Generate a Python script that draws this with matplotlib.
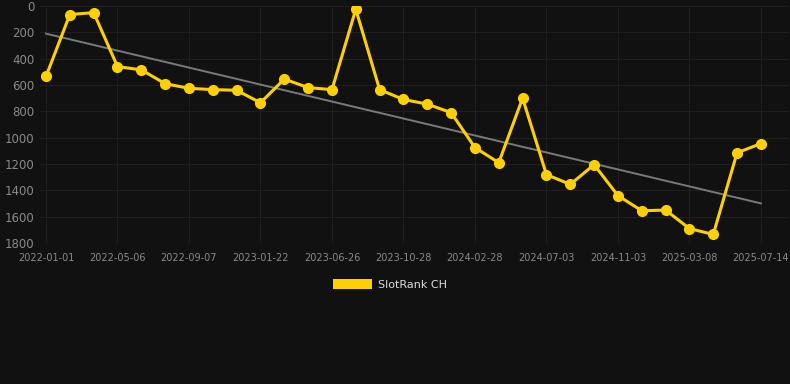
import numpy as np
import matplotlib

matplotlib.use("Agg")
import matplotlib.pyplot as plt
from matplotlib.patches import Rectangle

# rank per observation (lower = better), y axis is inverted
ranks = [535, 65, 50, 460, 485, 590, 625, 635, 640, 735,
         555, 620, 635, 25, 635, 710, 745, 810, 1075, 1190,
         700, 1280, 1355, 1205, 1440, 1555, 1550, 1690, 1735, 1115,
         1045]
tick_labels = ["2022-01-01", "2022-05-06", "2022-09-07", "2023-01-22",
               "2023-06-26", "2023-10-28", "2024-02-28", "2024-07-03",
               "2024-11-03", "2025-03-08", "2025-07-14"]
y_ticks = [0, 200, 400, 600, 800, 1000, 1200, 1400, 1600, 1800]
series_name = "SlotRank CH"

BG = "#111111"
GOLD = "#ffd000"
GRID = "#1f1f1f"
TXT = "#8a8a8a"

x = np.arange(len(ranks))
y = np.array(ranks, dtype=float)
slope, icpt = np.polyfit(x, y, 1)

fig = plt.figure(figsize=(7.9, 3.84), dpi=100, facecolor=BG)
ax = fig.add_axes([40 / 790, 1 - 243 / 384, 748 / 790, 237 / 384], facecolor=BG)

ax.plot(x, slope * x + icpt, color="#7a7a7a", lw=1.4, zorder=2)
ax.plot(x, y, color=GOLD, lw=2.2, marker="o", ms=7, zorder=3)

ax.set_ylim(1800, 0)
ax.set_xlim((40 - 46) / 23.83, (788 - 46) / 23.83)
ax.set_yticks(y_ticks)
ax.set_xticks(x[::3])
ax.set_xticklabels(tick_labels)
ax.grid(True, color=GRID, lw=0.8)
ax.set_axisbelow(True)
for s in ax.spines.values():
    s.set_visible(False)
ax.tick_params(axis="y", colors=TXT, labelsize=8.5, length=0, pad=4)
ax.tick_params(axis="x", colors=TXT, labelsize=7, length=0, pad=7)

# legend
fig.patches.append(Rectangle((333 / 790, 1 - 289 / 384), 39 / 790, 10 / 384,
                             transform=fig.transFigure, facecolor=GOLD,
                             edgecolor="none"))
fig.text(378 / 790, 1 - 285 / 384, series_name, color="#dddddd",
         fontsize=8, va="center", ha="left")

fig.savefig("out.png", dpi=100, facecolor=BG)
